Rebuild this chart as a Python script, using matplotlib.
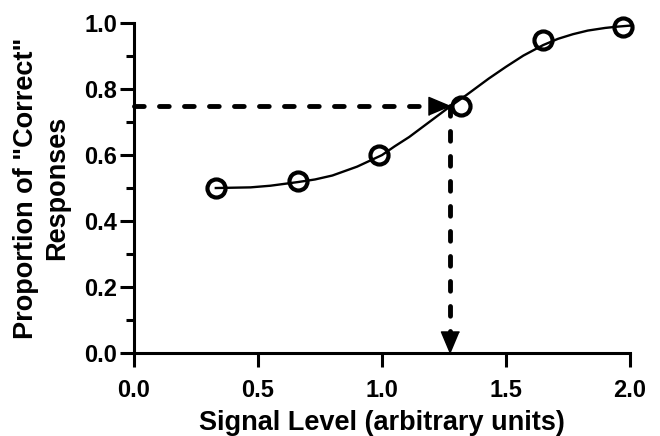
import matplotlib
matplotlib.use("Agg")
import matplotlib.pyplot as plt
from matplotlib.ticker import MultipleLocator

plt.rcParams['font.family'] = ['Liberation Sans', 'DejaVu Sans']
plt.rcParams['font.weight'] = 'bold'
plt.rcParams['lines.scale_dashes'] = False

# measured proportions
signal_level = [0.33, 0.66, 0.99, 1.32, 1.65, 1.97]
prop_correct = [0.50, 0.52, 0.60, 0.75, 0.95, 0.99]

# fitted psychometric curve
fit_x = [0.33, 0.47, 0.55, 0.66, 0.73, 0.80, 0.90, 1.00, 1.05, 1.11, 1.19,
         1.27, 1.34, 1.43, 1.50, 1.57, 1.65, 1.71, 1.77, 1.83, 1.90, 1.95,
         2.00]
fit_y = [0.500, 0.502, 0.507, 0.518, 0.526, 0.538, 0.565, 0.600, 0.626,
         0.655, 0.700, 0.745, 0.782, 0.832, 0.868, 0.902, 0.934, 0.953,
         0.967, 0.978, 0.986, 0.990, 0.993]

# threshold (75% correct)
thr_x = 1.275
thr_y = 0.75

fig = plt.figure(figsize=(6.6, 4.36), dpi=100)
ax = fig.add_axes([0.203, 0.191, 0.7515, 0.7555])

dash = dict(color='black', lw=3.5, linestyle=(0, (7, 11)),
            dash_capstyle='round', clip_on=False)
ax.plot([0, thr_x], [thr_y, thr_y], **dash)
ax.plot([thr_x, thr_x], [thr_y, 0], **dash)

# arrow heads with the tip on the point
head_right = [(0, 0), (-1, 0.42), (-1, -0.42)]
head_down = [(0, 0), (-0.42, 1), (0.42, 1)]
ax.plot([thr_x], [thr_y], marker=head_right, ms=31, color='black',
        clip_on=False, zorder=4)
ax.plot([thr_x], [0], marker=head_down, ms=31, color='black',
        clip_on=False, zorder=4)

ax.plot(fit_x, fit_y, color='black', lw=1.7, zorder=3, clip_on=False,
        solid_joinstyle='round')
ax.plot(signal_level, prop_correct, 'o', ms=13, mfc='none', mec='black',
        mew=3, zorder=5, clip_on=False)

ax.set_xlim(0, 2.0)
ax.set_ylim(0, 1.0)
ax.xaxis.set_major_locator(MultipleLocator(0.5))
ax.yaxis.set_major_locator(MultipleLocator(0.2))
ax.yaxis.set_minor_locator(MultipleLocator(0.1))
ax.xaxis.set_major_formatter(plt.FormatStrFormatter('%.1f'))
ax.yaxis.set_major_formatter(plt.FormatStrFormatter('%.1f'))

for s in ['top', 'right']:
    ax.spines[s].set_visible(False)
for s in ['left', 'bottom']:
    ax.spines[s].set_linewidth(2.2)

ax.tick_params(axis='both', which='major', direction='out', length=10,
               width=2.2, labelsize=17, pad=2)
ax.tick_params(axis='x', which='major', pad=9)
ax.tick_params(axis='y', which='minor', direction='out', length=6, width=2.2)

ax.set_xlabel('Signal Level (arbitrary units)', fontsize=19.5,
              fontweight='bold', labelpad=6)
ax.set_ylabel('Proportion of "Correct"\nResponses', fontsize=19.5,
              fontweight='bold', labelpad=10, linespacing=1.25)

fig.savefig('out.png', dpi=100)
